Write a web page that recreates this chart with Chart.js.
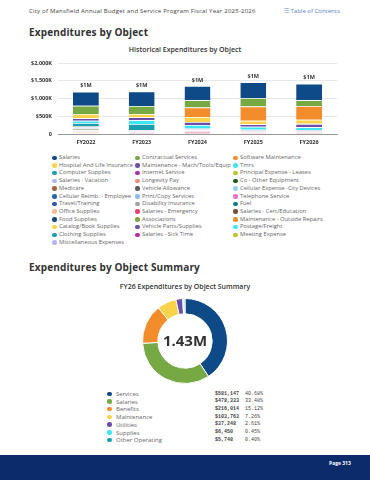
<!DOCTYPE html>
<html lang="en">
<head>
<meta charset="UTF-8">
<title>Expenditures by Object</title>
<style>
    body { margin: 0; width: 370px; height: 480px; background: #fff; position: relative; overflow: hidden; font-family: "Open Sans", sans-serif; color: #333; }
    .topline { position: absolute; left: 29px; top: 7px; font-size: 6px; letter-spacing: 0.22px; color: #444; white-space: nowrap; }
    .toc { position: absolute; left: 284px; top: 7px; font-size: 6px; color: #5b86c9; white-space: nowrap; }
    h1 { position: absolute; margin: 0; left: 29px; font-size: 10px; font-weight: 700; color: #333; white-space: nowrap; line-height: 1; letter-spacing: 0.15px; }
    .ctitle { position: absolute; left: 0; width: 370px; text-align: center; font-size: 7px; font-weight: 600; color: #333; line-height: 1; }
    #barBox { position: absolute; left: 20px; top: 43px; width: 325px; height: 108px; }
    #donutBox { position: absolute; left: 142px; top: 298px; width: 86px; height: 86px; }
    .leg { position: absolute; font-size: 5.8px; color: #666; white-space: nowrap; line-height: 1; }
    .leg i { position: absolute; left: -7px; top: 0.5px; width: 4.5px; height: 4.5px; border-radius: 50%; }
    .srow { position: absolute; left: 0; font-size: 6px; color: #666; white-space: nowrap; line-height: 1; }
    .srow i { position: absolute; left: 107px; top: 0.5px; width: 4.5px; height: 4.5px; border-radius: 50%; }
    .srow .lab { position: absolute; left: 116px; }
    .srow .val { position: absolute; left: 215px; top: 0.5px; font-family: "Liberation Mono", monospace; font-size: 5px; font-weight: 700; color: #444; }
    .srow .pct { position: absolute; left: 245px; top: 0.5px; font-family: "Liberation Mono", monospace; font-size: 5px; color: #444; }
    .footer { position: absolute; left: 0; top: 455px; width: 370px; height: 25px; background: #0b2b6b; }
    .page { position: absolute; left: 329px; top: 460px; font-size: 5px; font-weight: 700; color: #fff; }
</style>
</head>
<body>
    <div class="topline">City of Mansfield Annual Budget and Service Program Fiscal Year 2025-2026</div>
    <div class="toc">☰ Table of Contents</div>
    <h1 style="top:26.5px">Expenditures by Object</h1>
    <div class="ctitle" style="top:46px">Historical Expenditures by Object</div>
    <div id="barBox"><canvas id="barChart"></canvas></div>
    <div id="legend"></div>

    <h1 style="top:261.5px">Expenditures by Object Summary</h1>
    <div class="ctitle" style="top:283px">FY26 Expenditures by Object Summary</div>
    <div id="donutBox"><canvas id="donutChart"></canvas></div>
    <div id="summary"></div>

    <div class="footer"></div>
    <div class="page">Page 313</div>

    <script src="https://cdn.jsdelivr.net/npm/chart.js"></script>
    <script>
        // fiscal years on the x axis
        const years = ['FY2022', 'FY2023', 'FY2024', 'FY2025', 'FY2026']
        const yTicks = [0, 500000, 1000000, 1500000, 2000000]

        // expense objects, in legend order (first one sits on top of the stack)
        const objectNames = [
            'Salaries', 'Contractual Services', 'Software Maintenance',
            'Hospital And Life Insurance', 'Maintenance - Mach/Tools/Equip', 'Tmrs',
            'Computer Supplies', 'Internet Service', 'Principal Expense - Leases',
            'Salaries - Vacation', 'Longevity Pay', 'Co - Other Equipment',
            'Medicare', 'Vehicle Allowance', 'Cellular Expense -City Devices',
            'Cellular Reimb. - Employee', 'Print/Copy Services', 'Telephone Service',
            'Travel/Training', 'Disability Insurance', 'Fuel',
            'Office Supplies', 'Salaries - Emergency', 'Salaries - Cert/Education',
            'Food Supplies', 'Associations', 'Maintenance - Outside Repairs',
            'Catalog/Book Supplies', 'Vehicle Parts/Supplies', 'Postage/Freight',
            'Clothing Supplies', 'Salaries - Sick Time', 'Meeting Expense',
            'Miscellaneous Expenses'
        ]

        // values per object, FY2022 .. FY2026 (approximate)
        const objectValues = [
            [400000, 409000, 404000, 443000, 465000],
            [230000, 226000, 207000, 240000, 165000],
            [0, 0, 263000, 404000, 385000],
            [118000, 94000, 141000, 94000, 118000],
            [72000, 85000, 85000, 75000, 94000],
            [66000, 103000, 100000, 85000, 80000],
            [95000, 169000, 22000, 9000, 6000],
            [6000, 6000, 7000, 8000, 8000],
            [9000, 0, 0, 0, 0],
            [44000, 20000, 18000, 16000, 12000],
            [4000, 3000, 3000, 3000, 3000],
            [28000, 0, 0, 0, 0],
            [14000, 9000, 10000, 10000, 11000],
            [4000, 4000, 4000, 4000, 4000],
            [6000, 6000, 8000, 9000, 10000],
            [2000, 2000, 2000, 2000, 2000],
            [4000, 4000, 3000, 3000, 3000],
            [15000, 15000, 16000, 12000, 12000],
            [4000, 5000, 6000, 6000, 5000],
            [2000, 2000, 2000, 2000, 2000],
            [1000, 1000, 1000, 1000, 1000],
            [3000, 3000, 3000, 2000, 2000],
            [20000, 8000, 20000, 4000, 3000],
            [4000, 4000, 4000, 4000, 4000],
            [1000, 1000, 1000, 1000, 1000],
            [2000, 2000, 2000, 2000, 2000],
            [17000, 10000, 14000, 12000, 14000],
            [1000, 1000, 500, 500, 500],
            [1000, 1000, 1000, 1000, 1000],
            [300, 300, 200, 200, 200],
            [1000, 1000, 500, 500, 500],
            [6000, 4000, 6000, 3000, 3000],
            [9000, 1000, 1000, 1000, 1000],
            [5000, 1000, 1000, 1000, 1000]
        ]

        const palette = [
            '#0d4a86', '#76a844', '#f38c2a', '#f9d44a', '#6c4ea6', '#3ee6f4',
            '#1a9fb0', '#b42d9a', '#bcc02a', '#b3b3f5', '#f08a74', '#1f5c1a',
            '#a5643a', '#555b5b', '#8fd6ea', '#1e66b4', '#86bdf0', '#f36cc8',
            '#2c56b8', '#9aa2aa', '#0f7b82', '#f8bb92', '#e3406e', '#7b4a32'
        ]

        // FY26 summary
        const summaryLabels = ['Services', 'Salaries', 'Benefits', 'Maintenance', 'Utilities', 'Supplies', 'Other Operating']
        const summaryValues = [581147, 478333, 216014, 103763, 37248, 6450, 5748]

        const colorOf = i => palette[i % palette.length]

        // html legend in 3 columns
        let out = ''
        const colX = [59, 142, 240]
        objectNames.forEach((name, i) => {
            const x = colX[i % 3]
            const y = 155 + Math.floor(i / 3) * 7.7
            out += `<div class="leg" style="left:${x}px;top:${y}px"><i style="background:${colorOf(i)}"></i>${name}</div>`
        })
        document.getElementById('legend').innerHTML = out

        // totals above the bars
        const totalsPlugin = {
            id: 'totals',
            afterDatasetsDraw(chart) {
                const c = chart.ctx
                const x = chart.scales.x, y = chart.scales.y
                c.save()
                c.font = '700 5.5px "Open Sans"'
                c.fillStyle = '#333'
                c.textAlign = 'center'
                c.textBaseline = 'bottom'
                years.forEach((yr, j) => {
                    let t = 0
                    objectValues.forEach(v => t += v[j])
                    c.fillText('$' + Math.round(t / 1e6) + 'M', x.getPixelForValue(j), y.getPixelForValue(t) - 3)
                })
                c.restore()
            }
        }

        // reversed so the first object ends up on top of the stack
        const datasets = objectNames.map((name, i) => ({
            label: name,
            data: objectValues[i],
            backgroundColor: colorOf(i),
            borderColor: '#fff',
            borderWidth: { top: 0.8, left: 0, right: 0, bottom: 0 },
            borderSkipped: false,
            barPercentage: 0.58,
            categoryPercentage: 0.8
        })).reverse()

        new Chart(document.getElementById('barChart'), {
            type: 'bar',
            data: { labels: years, datasets: datasets },
            options: {
                responsive: true,
                maintainAspectRatio: false,
                animation: false,
                layout: { padding: { top: 20, right: 8, left: 0, bottom: 0 } },
                plugins: { legend: { display: false }, tooltip: { enabled: false } },
                scales: {
                    x: {
                        stacked: true,
                        grid: { display: false, drawTicks: false },
                        border: { color: '#999' },
                        ticks: { color: '#333', font: { size: 5.5, weight: '700', family: 'Open Sans' }, padding: 5 },
                        afterFit: s => { s.height = 17 }
                    },
                    y: {
                        stacked: true,
                        min: 0,
                        max: yTicks[yTicks.length - 1],
                        afterBuildTicks: s => { s.ticks = yTicks.map(v => ({ value: v })) },
                        grid: { color: '#e8e8e8', drawTicks: false },
                        border: { display: false },
                        ticks: {
                            color: '#333',
                            padding: 6,
                            font: { size: 5.5, weight: '700', family: 'Open Sans' },
                            callback: v => v === 0 ? '0' : '$' + (v / 1000).toLocaleString('en-US') + 'K'
                        },
                        afterFit: s => { s.width = 38 }
                    }
                }
            },
            plugins: [totalsPlugin]
        })

        // donut
        const total = summaryValues.reduce((a, b) => a + b, 0)
        const centerText = {
            id: 'centerText',
            afterDraw(chart) {
                const c = chart.ctx
                const a = chart.chartArea
                c.save()
                c.font = '700 15px "Open Sans"'
                c.fillStyle = '#333'
                c.textAlign = 'center'
                c.textBaseline = 'middle'
                c.fillText((total / 1e6).toFixed(2) + 'M', (a.left + a.right) / 2, (a.top + a.bottom) / 2 + 1)
                c.restore()
            }
        }
        new Chart(document.getElementById('donutChart'), {
            type: 'doughnut',
            data: {
                labels: summaryLabels,
                datasets: [{
                    data: summaryValues,
                    backgroundColor: summaryLabels.map((l, i) => colorOf(i)),
                    borderColor: '#fff',
                    borderWidth: 1
                }]
            },
            options: {
                responsive: true,
                maintainAspectRatio: false,
                animation: false,
                cutout: '64%',
                plugins: { legend: { display: false }, tooltip: { enabled: false } }
            },
            plugins: [centerText]
        })

        let rows = ''
        summaryLabels.forEach((l, i) => {
            const v = summaryValues[i]
            rows += `<div class="srow" style="top:${391 + i * 7.7}px">
                <i style="background:${colorOf(i)}"></i>
                <span class="lab">${l}</span>
                <span class="val">$${v.toLocaleString('en-US')}</span>
                <span class="pct">${(v / total * 100).toFixed(2)}%</span>
            </div>`
        })
        document.getElementById('summary').innerHTML = rows
    </script>
</body>
</html>
